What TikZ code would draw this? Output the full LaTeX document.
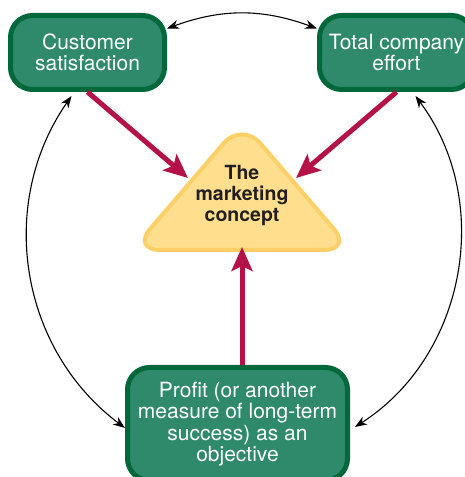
\documentclass[tikz,border=0pt]{standalone}
\usepackage{fontspec}
\setmainfont{TeX Gyre Heros}
\usepackage{tikz}
\usetikzlibrary{positioning, arrows.meta}
\definecolor{boxgreen}{RGB}{46,138,106}
\definecolor{edgegreen}{RGB}{0,104,58}
\definecolor{arrowred}{RGB}{181,18,72}
\definecolor{conceptfill}{RGB}{255,223,142}
\definecolor{conceptedge}{RGB}{252,208,102}
\definecolor{concepttext}{RGB}{35,31,32}

\begin{document}
\begin{tikzpicture}[x=1pt, y=1pt,
    greenbox/.style={draw=edgegreen, fill=boxgreen, line width=5pt, rounded corners=22pt, text=white, align=center, inner sep=0pt, font=\fontsize{21}{21.5}\selectfont},
    redarrow/.style={draw=arrowred, line width=5pt, -{Stealth[length=24pt, width=21pt, inset=5pt]}},
    linkarrow/.style={line width=1.1pt, {Stealth[length=12pt, width=9pt]}-{Stealth[length=12pt, width=9pt]}}]
            \useasboundingbox (0, 0) rectangle (465, 477);
            \clip (0, 0) rectangle (465, 477);
            \coordinate (base) at (242, 227);
            \coordinate (apex) at (242, 355);
            \coordinate (left) at (132, 227);
            \coordinate (right) at (352, 227);
            \draw[conceptedge, fill=conceptfill, line width=4pt, rounded corners=28pt] (base) -- (right) -- (apex) -- (left) -- cycle;
            \node[font=\bfseries\fontsize{19.5}{21}\selectfont, text=concepttext, align=center] (concept) at (242, 281) {The\\marketing\\concept};

            \node[greenbox, minimum width=154pt, minimum height=74pt] (customer) at (87.5, 424.5) {Customer\\satisfaction};
            \node[greenbox, minimum width=154pt, minimum height=74pt] (effort) at (396.5, 424.5) {Total company\\effort};
            \node[greenbox, minimum width=220pt, minimum height=113pt] (profit) at (237.5, 53) {Profit (or another\\measure of long-term\\success) as an\\objective};

            \coordinate (tipL) at (188, 299);
            \coordinate (tipR) at (296, 299);
            \coordinate (tipB) at (242, 230);
            \draw[redarrow] (customer.south) -- (tipL);
            \draw[redarrow] (effort.south) -- (tipR);
            \draw[redarrow] (profit.north -| tipB) -- (tipB);

            \draw[linkarrow] ([yshift=24pt]customer.east) to[bend left=20] ([yshift=24pt]effort.west);
            \draw[linkarrow] ([xshift=-16pt, yshift=-4pt]customer.south) to[bend right=44] ([yshift=-4pt]profit.west);
            \draw[linkarrow] ([xshift=19pt, yshift=-4pt]effort.south) to[bend left=47] ([xshift=5pt, yshift=-3pt]profit.east);
\end{tikzpicture}
\end{document}
